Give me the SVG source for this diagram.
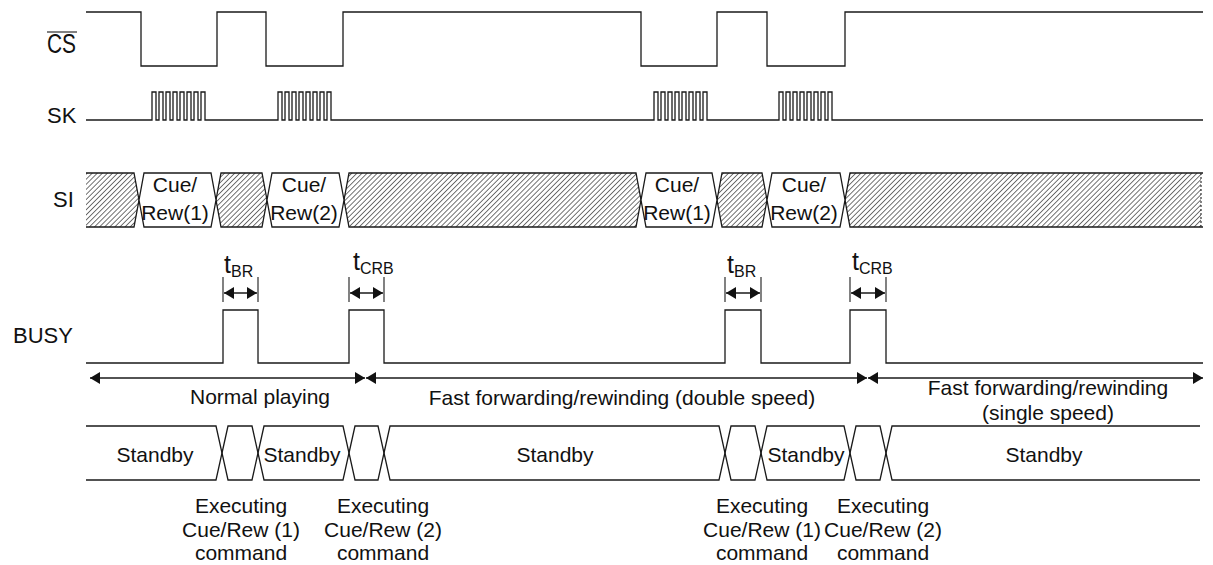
<svg xmlns="http://www.w3.org/2000/svg" width="1213" height="565" viewBox="0 0 1213 565">
<defs>
<style>
.w{fill:none;stroke:#1a1a1a;stroke-width:1.3}
.o{fill:#fff;stroke:#1a1a1a;stroke-width:1.3}
.h{fill:url(#hatch);stroke:none}
.t{font-family:"Liberation Sans",Arial,sans-serif;font-size:21px;fill:#111}
.lb{font-family:"Liberation Sans",Arial,sans-serif;font-size:22px;fill:#111}
.c{text-anchor:middle}
.tt{font-family:"Liberation Sans",Arial,sans-serif;font-size:25px;fill:#111}
.sb{font-family:"Liberation Sans",Arial,sans-serif;font-size:16px;fill:#111}
.a{fill:none;stroke:#1a1a1a;stroke-width:1.3;marker-start:url(#ah);marker-end:url(#ah)}
.tk{stroke:#1a1a1a;stroke-width:1.1}
</style>
<pattern id="hatch" width="3.6" height="3.6" patternUnits="userSpaceOnUse" patternTransform="rotate(45)">
<rect width="3.6" height="3.6" fill="#fff"/>
<line x1="0" y1="0" x2="0" y2="3.6" stroke="#444" stroke-width="1.5"/>
</pattern>
<marker id="ah" viewBox="0 0 10 12" refX="10" refY="6" markerWidth="10" markerHeight="12" markerUnits="userSpaceOnUse" orient="auto-start-reverse">
<path d="M0,0 L10,6 L0,12 z" fill="#111"/>
</marker>
</defs>
<rect width="1213" height="565" fill="#fff"/>

<g id="labels">
<text class="lb" x="47" y="53" textLength="29" lengthAdjust="spacingAndGlyphs" style="font-size:27px">CS</text>
<line x1="47" y1="32" x2="77" y2="32" class="tk"/>
<text class="lb" x="47" y="123">SK</text>
<text class="lb" x="53" y="207">SI</text>
<text class="lb" x="13" y="343">BUSY</text>
</g>

<g id="cs">
<path class="w" d="M86,12 H141 V66 H217 V12 H266 V66 H343 V12 H641 V66 H717 V12 H767 V66 H845 V12 H1203"/>
</g>

<g id="sk">
<path class="w" d="M86,120 H152V92H156V120H159V92H163V120H166V92H170V120H173V92H177V120H180V92H184V120H187V92H191V120H194V92H198V120H201V92H205V120 H278V92H282V120H285V92H289V120H292V92H296V120H299V92H303V120H306V92H310V120H313V92H317V120H320V92H324V120H327V92H331V120 H654V92H658V120H661V92H665V120H668V92H672V120H675V92H679V120H682V92H686V120H689V92H693V120H696V92H700V120H703V92H707V120 H779V92H783V120H786V92H790V120H793V92H797V120H800V92H804V120H807V92H811V120H814V92H818V120H821V92H825V120H828V92H832V120 H1203"/>
</g>

<g id="si">
<polygon class="h" points="86,173 134,173 139,200 134,227 86,227"/>
<polygon class="h" points="216,200 221,173 262,173 267,200 262,227 221,227"/>
<polygon class="h" points="344,200 349,173 636,173 641,200 636,227 349,227"/>
<polygon class="h" points="717,200 722,173 762,173 767,200 762,227 722,227"/>
<polygon class="h" points="845,200 850,173 1201,173 1201,227 850,227"/>
<path class="w" d="M86,173 H134 L139,200 L134,227 H86"/>
<polygon class="w" points="216,200 221,173 262,173 267,200 262,227 221,227"/>
<polygon class="w" points="344,200 349,173 636,173 641,200 636,227 349,227"/>
<polygon class="w" points="717,200 722,173 762,173 767,200 762,227 722,227"/>
<path class="w" d="M1203,173 H850 L845,200 L850,227 H1203"/>
<line x1="1201" y1="173" x2="1201" y2="227" stroke="#333" stroke-width="1.2" stroke-dasharray="2,2"/>
<polygon class="o" points="139,200 144,173 211,173 216,200 211,227 144,227"/>
<polygon class="o" points="267,200 272,173 339,173 344,200 339,227 272,227"/>
<polygon class="o" points="641,200 646,173 712,173 717,200 712,227 646,227"/>
<polygon class="o" points="767,200 772,173 840,173 845,200 840,227 772,227"/>
<text class="t c" x="175" y="192">Cue/</text>
<text class="t c" x="175" y="220">Rew(1)</text>
<text class="t c" x="304" y="192">Cue/</text>
<text class="t c" x="304" y="220">Rew(2)</text>
<text class="t c" x="677" y="192">Cue/</text>
<text class="t c" x="677" y="220">Rew(1)</text>
<text class="t c" x="804" y="192">Cue/</text>
<text class="t c" x="804" y="220">Rew(2)</text>
</g>

<g id="busy">
<path class="w" d="M86,363 H223 V310 H258 V363 H349 V310 H384 V363 H725 V310 H761 V363 H850 V310 H886 V363 H1203"/>
</g>

<g id="timing">
<line class="tk" x1="223" y1="277" x2="223" y2="302"/>
<line class="tk" x1="258" y1="277" x2="258" y2="302"/>
<line class="tk" x1="349" y1="277" x2="349" y2="302"/>
<line class="tk" x1="384" y1="277" x2="384" y2="302"/>
<line class="tk" x1="725" y1="277" x2="725" y2="302"/>
<line class="tk" x1="761" y1="277" x2="761" y2="302"/>
<line class="tk" x1="850" y1="277" x2="850" y2="302"/>
<line class="tk" x1="886" y1="277" x2="886" y2="302"/>
<text class="tt" x="224" y="273">t<tspan class="sb" dy="4">BR</tspan></text>
<text class="tt" x="353" y="270">t<tspan class="sb" dy="4">CRB</tspan></text>
<text class="tt" x="727" y="273">t<tspan class="sb" dy="4">BR</tspan></text>
<text class="tt" x="852" y="270">t<tspan class="sb" dy="4">CRB</tspan></text>
</g>

<g id="connectors">
<line class="a" x1="224" y1="293" x2="257" y2="293"/>
<line class="a" x1="350" y1="293" x2="383" y2="293"/>
<line class="a" x1="726" y1="293" x2="760" y2="293"/>
<line class="a" x1="851" y1="293" x2="885" y2="293"/>
<line class="a" x1="90" y1="378" x2="365" y2="378"/>
<line class="a" x1="366" y1="378" x2="867" y2="378"/>
<line class="a" x1="868" y1="378" x2="1203" y2="378"/>
</g>

<g id="phases">
<text class="t c" x="260" y="404">Normal playing</text>
<text class="t c" x="622" y="405">Fast forwarding/rewinding (double speed)</text>
<text class="t c" x="1048" y="395">Fast forwarding/rewinding</text>
<text class="t c" x="1048" y="420">(single speed)</text>
</g>

<g id="state">
<path class="w" d="M86,426 H216 L222,453 L216,480 H86"/>
<polygon class="w" points="222,453 228,426 252,426 258,453 252,480 228,480"/>
<polygon class="w" points="258,453 264,426 343,426 349,453 343,480 264,480"/>
<polygon class="w" points="349,453 355,426 378,426 384,453 378,480 355,480"/>
<polygon class="w" points="384,453 390,426 719,426 725,453 719,480 390,480"/>
<polygon class="w" points="725,453 731,426 755,426 761,453 755,480 731,480"/>
<polygon class="w" points="761,453 767,426 844,426 850,453 844,480 767,480"/>
<polygon class="w" points="850,453 856,426 880,426 886,453 880,480 856,480"/>
<path class="w" d="M1200,426 H892 L886,453 L892,480 H1200"/>
<text class="t c" x="155" y="462">Standby</text>
<text class="t c" x="302" y="462">Standby</text>
<text class="t c" x="555" y="462">Standby</text>
<text class="t c" x="806" y="462">Standby</text>
<text class="t c" x="1044" y="462">Standby</text>
</g>

<g id="exec-labels">
<text class="t c" x="241" y="513">Executing</text>
<text class="t c" x="241" y="537">Cue/Rew (1)</text>
<text class="t c" x="241" y="560">command</text>
<text class="t c" x="383" y="513">Executing</text>
<text class="t c" x="383" y="537">Cue/Rew (2)</text>
<text class="t c" x="383" y="560">command</text>
<text class="t c" x="762" y="513">Executing</text>
<text class="t c" x="762" y="537">Cue/Rew (1)</text>
<text class="t c" x="762" y="560">command</text>
<text class="t c" x="883" y="513">Executing</text>
<text class="t c" x="883" y="537">Cue/Rew (2)</text>
<text class="t c" x="883" y="560">command</text>
</g>
</svg>
